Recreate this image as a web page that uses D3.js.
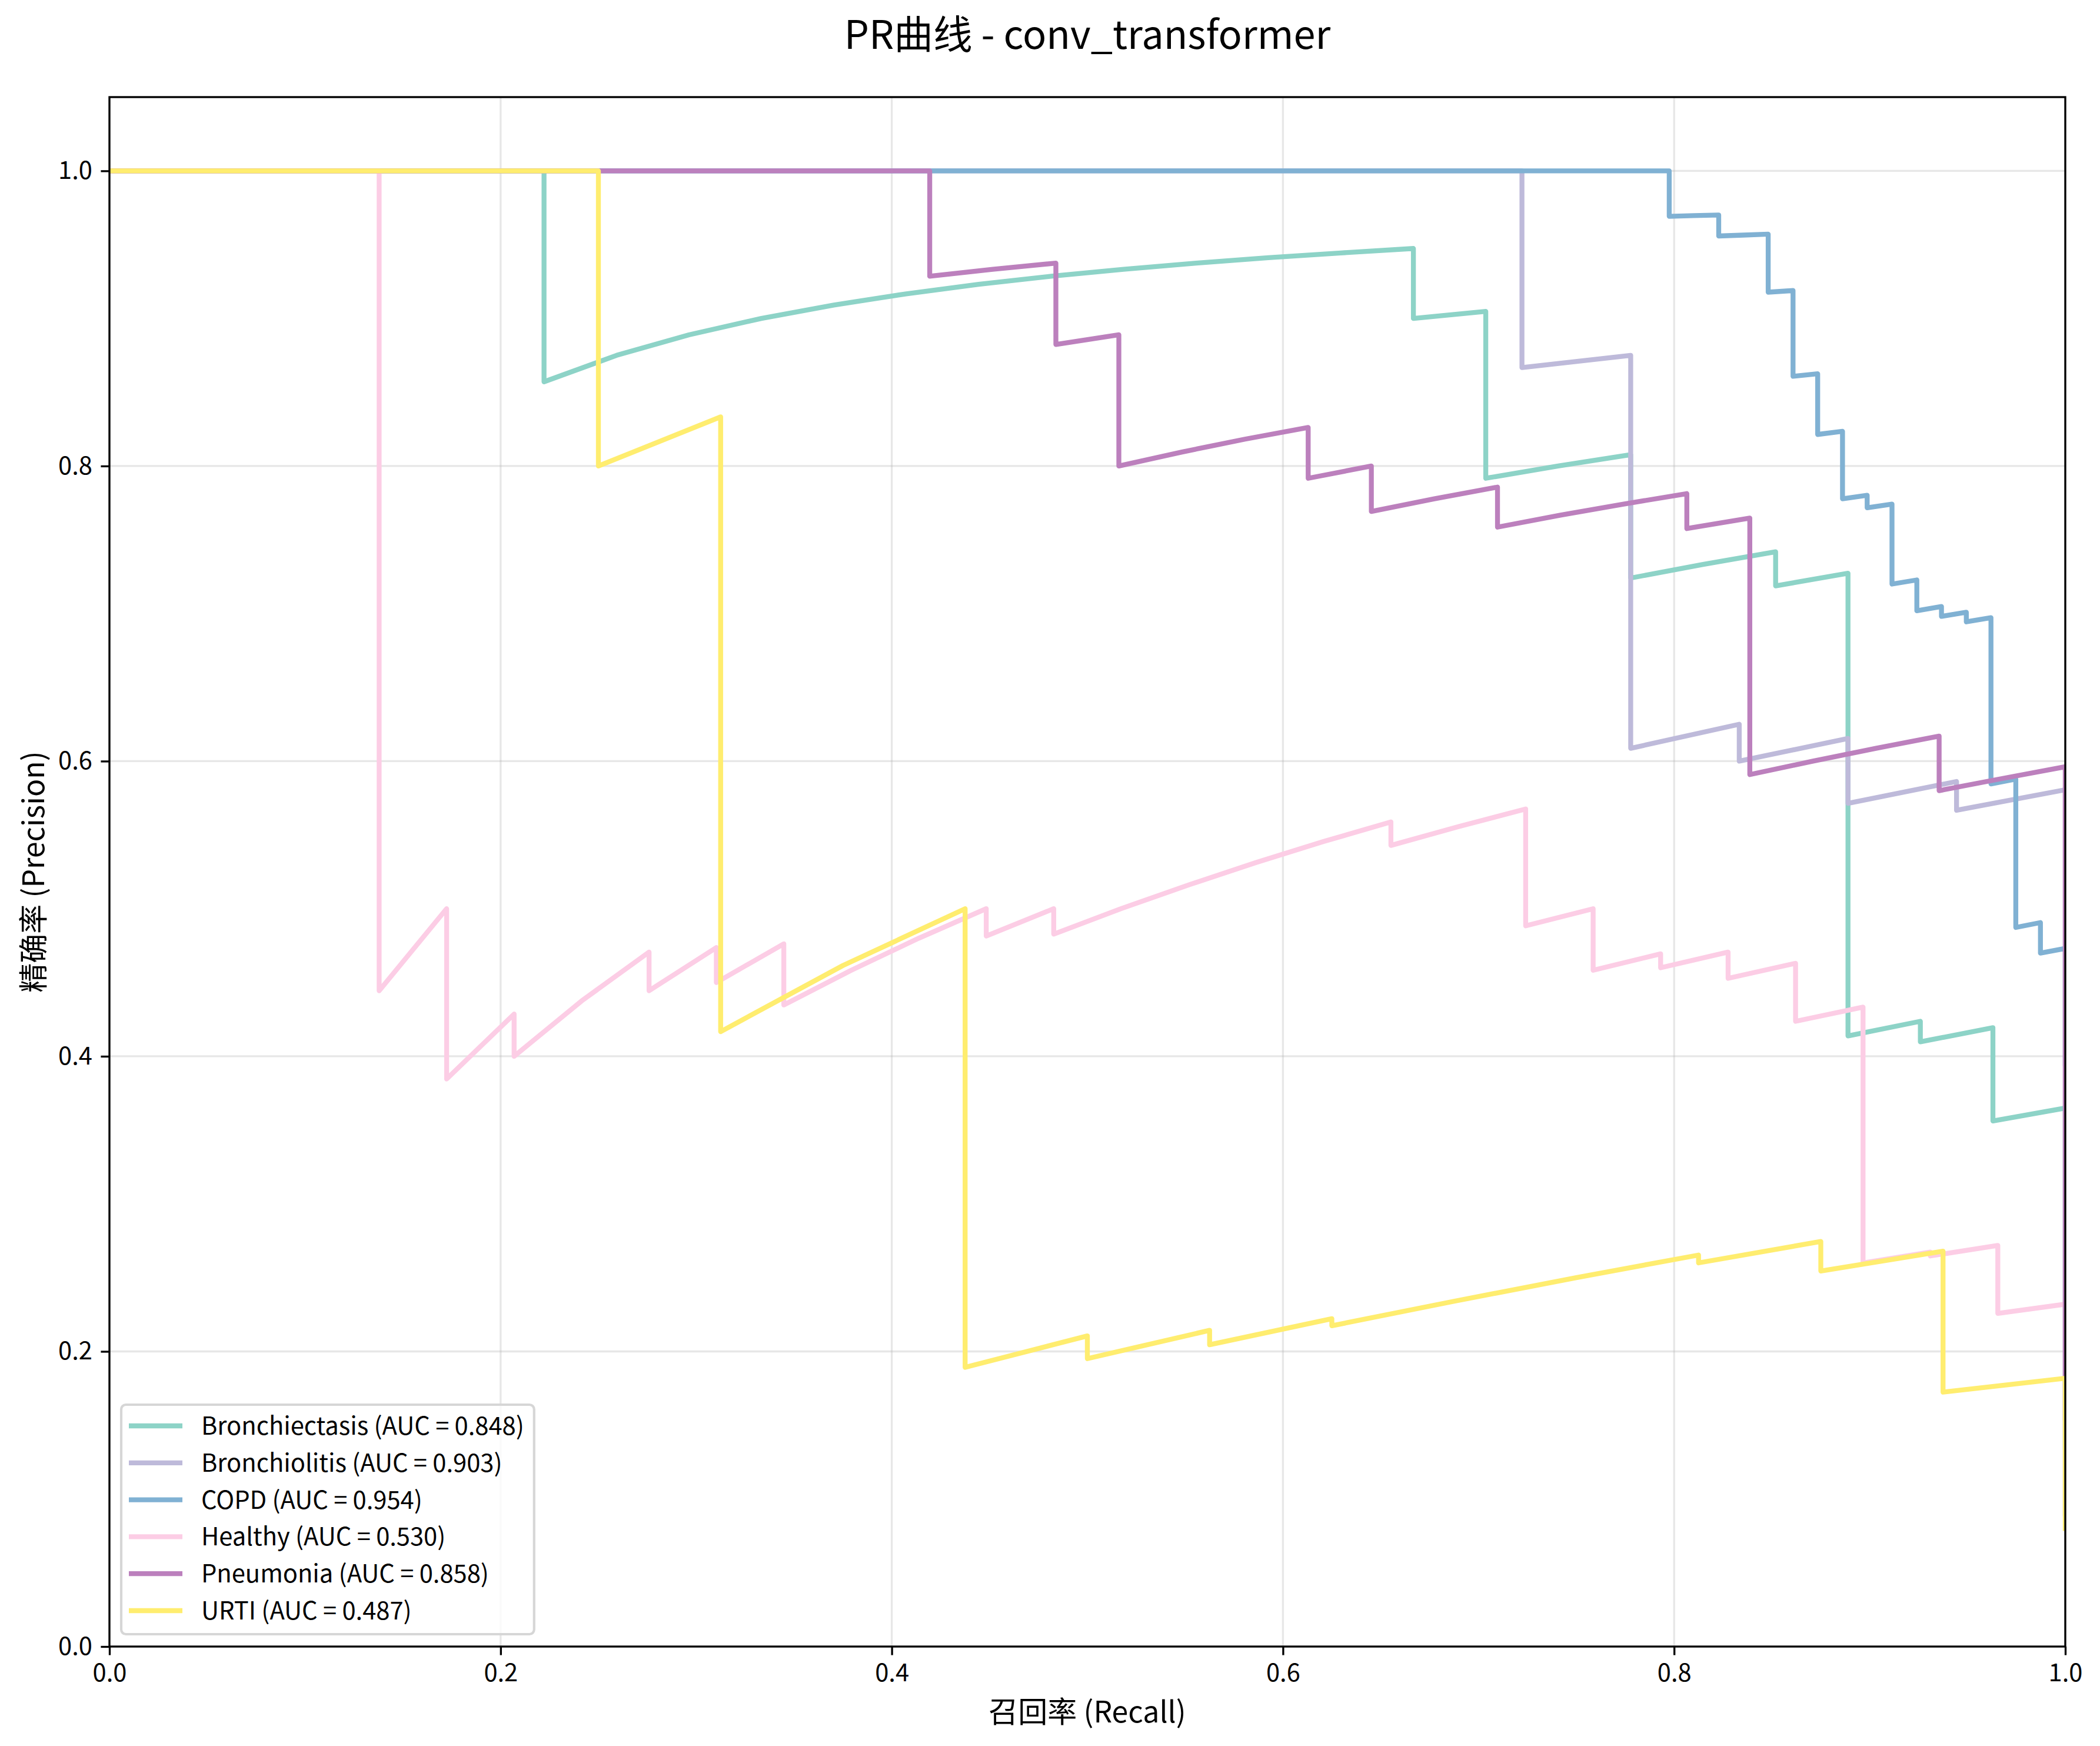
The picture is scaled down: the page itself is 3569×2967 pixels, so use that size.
<!DOCTYPE html>
<html>
<head>
<meta charset="utf-8">
<script src="https://cdn.jsdelivr.net/npm/d3@7"></script>
<style>
  body { margin: 0; background: #fff; }
  text { font-family: "Noto Sans CJK SC", "Noto Sans", sans-serif; }
</style>
</head>
<body>
<svg id="chart" width="3569" height="2967"></svg>
<script>
// PR points, as [recall, precision]
var bronchiectasis = [
  [0, 1], [0.2222, 1], [0.2222, 0.8571], [0.2593, 0.875], [0.2963, 0.8889], [0.3333, 0.9],
  [0.3704, 0.9091], [0.4074, 0.9167], [0.4444, 0.9231], [0.4815, 0.9286], [0.5185, 0.9333],
  [0.5556, 0.9375], [0.5926, 0.9412], [0.6296, 0.9444], [0.6667, 0.9474], [0.6667, 0.9],
  [0.7037, 0.9048], [0.7037, 0.7917], [0.7407, 0.8], [0.7778, 0.8077], [0.7778, 0.7241],
  [0.8148, 0.7333], [0.8519, 0.7419], [0.8519, 0.7188], [0.8889, 0.7273], [0.8889, 0.4138],
  [0.9259, 0.4237], [0.9259, 0.4098], [0.963, 0.4194], [0.963, 0.3562], [1, 0.3649], [1, 0.135]
];
var bronchiolitis = [
  [0, 1], [0.7222, 1], [0.7222, 0.8667], [0.7778, 0.875], [0.7778, 0.6087], [0.8333, 0.625],
  [0.8333, 0.6], [0.8889, 0.6154], [0.8889, 0.5714], [0.9444, 0.5862], [0.9444, 0.5667],
  [1, 0.5806], [1, 0.09]
];
var copd = [
  [0, 1], [0.7975, 1], [0.7975, 0.9692], [0.8101, 0.9697], [0.8228, 0.9701], [0.8228, 0.9559],
  [0.8354, 0.9565], [0.8481, 0.9571], [0.8481, 0.9178], [0.8608, 0.9189], [0.8608, 0.8608],
  [0.8734, 0.8625], [0.8734, 0.8214], [0.8861, 0.8235], [0.8861, 0.7778], [0.8987, 0.7802],
  [0.8987, 0.7717], [0.9114, 0.7742], [0.9114, 0.72], [0.9241, 0.7228], [0.9241, 0.7019],
  [0.9367, 0.7048], [0.9367, 0.6981], [0.9494, 0.7009], [0.9494, 0.6944], [0.962, 0.6972],
  [0.962, 0.5846], [0.9747, 0.5878], [0.9747, 0.4873], [0.9873, 0.4906], [0.9873, 0.4699],
  [1, 0.4731], [1, 0.395]
];
var healthy = [
  [0, 1], [0.1379, 1], [0.1379, 0.4444], [0.1724, 0.5], [0.1724, 0.3846], [0.2069, 0.4286],
  [0.2069, 0.4], [0.2414, 0.4375], [0.2759, 0.4706], [0.2759, 0.4444], [0.3103, 0.4737],
  [0.3103, 0.45], [0.3448, 0.4762], [0.3448, 0.4348], [0.3793, 0.4583], [0.4138, 0.48],
  [0.4483, 0.5], [0.4483, 0.4815], [0.4828, 0.5], [0.4828, 0.4828], [0.5172, 0.5],
  [0.5517, 0.5161], [0.5862, 0.5313], [0.6207, 0.5455], [0.6552, 0.5588], [0.6552, 0.5429],
  [0.6897, 0.5556], [0.7241, 0.5676], [0.7241, 0.4884], [0.7586, 0.5], [0.7586, 0.4583],
  [0.7931, 0.4694], [0.7931, 0.46], [0.8276, 0.4706], [0.8276, 0.4528], [0.8621, 0.463],
  [0.8621, 0.4237], [0.8966, 0.4333], [0.8966, 0.26], [0.931, 0.2673], [0.931, 0.2647],
  [0.9655, 0.2718], [0.9655, 0.2258], [1, 0.232], [1, 0.145]
];
var pneumonia = [
  [0, 1], [0.4194, 1], [0.4194, 0.9286], [0.4516, 0.9333], [0.4839, 0.9375], [0.4839, 0.8824],
  [0.5161, 0.8889], [0.5161, 0.8], [0.5484, 0.8095], [0.5806, 0.8182], [0.6129, 0.8261],
  [0.6129, 0.7917], [0.6452, 0.8], [0.6452, 0.7692], [0.6774, 0.7778], [0.7097, 0.7857],
  [0.7097, 0.7586], [0.7419, 0.7667], [0.7742, 0.7742], [0.8065, 0.7813], [0.8065, 0.7576],
  [0.8387, 0.7647], [0.8387, 0.5909], [0.871, 0.6], [0.9032, 0.6087], [0.9355, 0.617],
  [0.9355, 0.58], [0.9677, 0.5882], [1, 0.5962], [1, 0.155]
];
var urti = [
  [0, 1], [0.25, 1], [0.25, 0.8], [0.3125, 0.8333], [0.3125, 0.4167], [0.375, 0.4615],
  [0.4375, 0.5], [0.4375, 0.1892], [0.5, 0.2105], [0.5, 0.1951], [0.5625, 0.2143],
  [0.5625, 0.2045], [0.625, 0.2222], [0.625, 0.2174], [0.6875, 0.234], [0.75, 0.25],
  [0.8125, 0.2653], [0.8125, 0.26], [0.875, 0.2745], [0.875, 0.2545], [0.9375, 0.2679],
  [0.9375, 0.1724], [1, 0.1818], [1, 0.08]
];

var classNames = ["Bronchiectasis", "Bronchiolitis", "COPD", "Healthy", "Pneumonia", "URTI"];
var aucValues = [0.848, 0.903, 0.954, 0.530, 0.858, 0.487];
var curves = [bronchiectasis, bronchiolitis, copd, healthy, pneumonia, urti];
var colors = ["#8dd3c7", "#bebada", "#80b1d3", "#fccde5", "#bc80bd", "#ffed6f"];

var xTicks = [0, 0.2, 0.4, 0.6, 0.8, 1.0];
var yTicks = [0, 0.2, 0.4, 0.6, 0.8, 1.0];

var titleText = "PR曲线 - conv_transformer";
var xLabel = "召回率 (Recall)";
var yLabel = "精确率 (Precision)";

(function () {
  // layout (pixels, 300 dpi figure)
  var m = { left: 186, right: 3510, top: 165, bottom: 2798 };
  var pt = 300 / 72;
  var tickFont = 10 * pt, labelFont = 12 * pt, titleFont = 16 * pt;

  var svg = d3.select("#chart");
  svg.append("rect").attr("width", 3569).attr("height", 2967).attr("fill", "#fff");

  var x = d3.scaleLinear().domain([0, 1]).range([m.left, m.right]);
  var y = d3.scaleLinear().domain([0, 1.05]).range([m.bottom, m.top]);

  // grid
  var grid = svg.append("g");
  grid.selectAll(".gx").data(xTicks).enter().append("line")
      .attr("x1", d => x(d)).attr("x2", d => x(d))
      .attr("y1", m.top).attr("y2", m.bottom);
  grid.selectAll(".gy").data(yTicks).enter().append("line")
      .attr("x1", m.left).attr("x2", m.right)
      .attr("y1", d => y(d)).attr("y2", d => y(d));
  grid.selectAll("line")
      .attr("stroke", "#b0b0b0").attr("stroke-opacity", 0.3).attr("stroke-width", 0.8 * pt);

  // curves
  svg.append("clipPath").attr("id", "plotclip")
    .append("rect").attr("x", m.left).attr("y", m.top)
    .attr("width", m.right - m.left).attr("height", m.bottom - m.top);

  var line = d3.line().x(d => x(d[0])).y(d => y(d[1]));

  svg.append("g").attr("clip-path", "url(#plotclip)")
    .selectAll("path").data(curves).enter().append("path")
      .attr("d", line)
      .attr("fill", "none")
      .attr("stroke", (d, i) => colors[i])
      .attr("stroke-width", 2 * pt)
      .attr("stroke-linejoin", "round")
      .attr("stroke-linecap", "square");

  // axes
  var xAxis = svg.append("g").attr("transform", "translate(0," + m.bottom + ")")
    .call(d3.axisBottom(x).tickValues(xTicks).tickFormat(d3.format(".1f"))
      .tickSize(3.5 * pt).tickPadding(3.5 * pt).tickSizeOuter(0));
  var yAxis = svg.append("g").attr("transform", "translate(" + m.left + ",0)")
    .call(d3.axisLeft(y).tickValues(yTicks).tickFormat(d3.format(".1f"))
      .tickSize(3.5 * pt).tickPadding(3.5 * pt).tickSizeOuter(0));

  [xAxis, yAxis].forEach(function (g) {
    g.select(".domain").remove();
    g.selectAll(".tick line").attr("stroke", "#000").attr("stroke-width", 0.8 * pt);
    g.selectAll(".tick text")
      .attr("fill", "#000")
      .style("font-family", '"Noto Sans CJK SC", "Noto Sans", sans-serif')
      .style("font-size", tickFont + "px");
  });

  // spines
  svg.append("rect")
    .attr("x", m.left).attr("y", m.top)
    .attr("width", m.right - m.left).attr("height", m.bottom - m.top)
    .attr("fill", "none").attr("stroke", "#000").attr("stroke-width", 0.8 * pt);

  // labels
  svg.append("text")
    .attr("x", (m.left + m.right) / 2).attr("y", 83)
    .attr("text-anchor", "middle")
    .style("font-size", titleFont + "px")
    .text(titleText);

  svg.append("text")
    .attr("x", (m.left + m.right) / 2).attr("y", 2927)
    .attr("text-anchor", "middle")
    .style("font-size", labelFont + "px")
    .text(xLabel);

  svg.append("text")
    .attr("transform", "translate(53," + ((m.top + m.bottom) / 2) + ") rotate(-90)")
    .attr("text-anchor", "middle")
    .attr("dominant-baseline", "central")
    .style("font-size", labelFont + "px")
    .text(yLabel);

  // legend
  var legend = svg.append("g");
  var box = legend.append("rect");
  var rowY = d3.range(classNames.length).map(i => 2423 + i * 62.8);
  var items = legend.selectAll(".item").data(classNames).enter().append("g");
  items.append("line")
    .attr("x1", 219).attr("x2", 310)
    .attr("y1", (d, i) => rowY[i]).attr("y2", (d, i) => rowY[i])
    .attr("stroke", (d, i) => colors[i])
    .attr("stroke-width", 2 * pt);
  items.append("text")
    .attr("x", 342).attr("y", (d, i) => rowY[i])
    .attr("dy", "0.36em")
    .style("font-size", tickFont + "px")
    .text((d, i) => d + " (AUC = " + aucValues[i].toFixed(3) + ")");

  var maxEnd = 0;
  items.selectAll("text").each(function () {
    var b = this.getBBox();
    maxEnd = Math.max(maxEnd, b.x + b.width);
  });
  box.attr("x", 206).attr("y", 2387)
    .attr("width", maxEnd + 17 - 206).attr("height", 2777 - 2387)
    .attr("rx", 8).attr("ry", 8)
    .attr("fill", "#fff").attr("fill-opacity", 0.8)
    .attr("stroke", "#d6d6d6").attr("stroke-width", 1 * pt);
})();
</script>
</body>
</html>
